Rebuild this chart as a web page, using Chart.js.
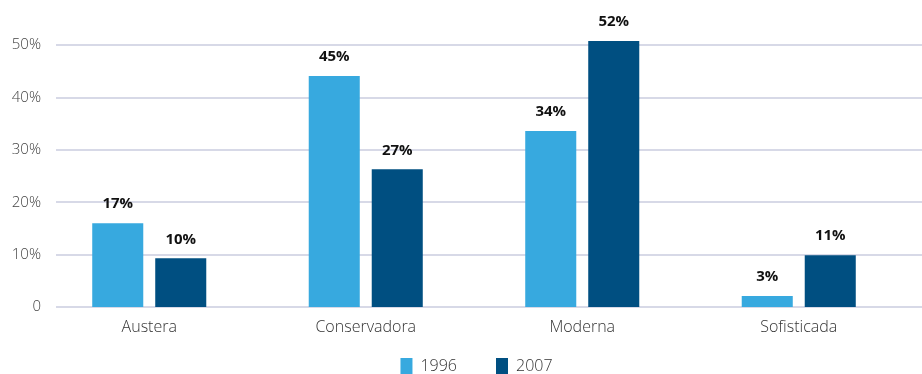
<!DOCTYPE html>
<html>
<head>
<meta charset="utf-8">
<script src="https://cdn.jsdelivr.net/npm/chart.js@4"></script>
<style>
  html, body { margin: 0; padding: 0; background: #fff; }
  #wrap { width: 922px; height: 374px; }
</style>
</head>
<body>
<div id="wrap"><canvas id="grafico" width="922" height="374"></canvas></div>
<script>
// datos
const categorias = ['Austera', 'Conservadora', 'Moderna', 'Sofisticada'];
const valores1996 = [16.0, 44.1, 33.6, 2.1];
const valores2007 = [9.3, 26.3, 50.8, 9.9];
const etiquetas1996 = ['17%', '45%', '34%', '3%'];
const etiquetas2007 = ['10%', '27%', '52%', '11%'];
const ticksY = [0, 10, 20, 30, 40, 50];

const fuente = "'Open Sans', Lato, sans-serif";

// lineas de la grilla, un poco desplazadas respecto al area del grafico
let grillaPlugin = {
  id: 'grilla',
  beforeDatasetsDraw(chart) {
    let ctx = chart.ctx;
    let y = chart.scales.y;
    ctx.save();
    ctx.strokeStyle = '#d7d9e7';
    ctx.lineWidth = 2;
    ticksY.forEach(v => {
      let py = Math.round(y.getPixelForValue(v));
      ctx.beginPath();
      ctx.moveTo(56, py);
      ctx.lineTo(chart.width, py);
      ctx.stroke();
    });
    ctx.restore();
  }
};

// etiquetas encima de cada barra
let etiquetasPlugin = {
  id: 'etiquetas',
  afterDatasetsDraw(chart) {
    let ctx = chart.ctx;
    ctx.save();
    ctx.font = "bold 15px " + fuente;
    ctx.fillStyle = '#111';
    ctx.textAlign = 'center';
    ctx.textBaseline = 'middle';
    chart.data.datasets.forEach((ds, i) => {
      let meta = chart.getDatasetMeta(i);
      meta.data.forEach((bar, j) => {
        ctx.fillText(ds.textos[j], bar.x, bar.y - 19);
      });
    });
    ctx.restore();
  }
};

// colocar la leyenda debajo de las etiquetas del eje x
let leyendaPlugin = {
  id: 'moverLeyenda',
  afterLayout(chart) {
    let leyenda = chart.legend;
    let alto = leyenda.bottom - leyenda.top;
    leyenda.top = 319;
    leyenda.bottom = 319 + alto;
    leyenda.left += 23;
    leyenda.right += 23;
  }
};

let config = {
  type: 'bar',
  data: {
    labels: categorias,
    datasets: [
      {
        label: '1996',
        data: valores1996,
        textos: etiquetas1996,
        backgroundColor: '#37a9df',
        barPercentage: 0.81,
        categoryPercentage: 0.582
      },
      {
        label: '2007',
        data: valores2007,
        textos: etiquetas2007,
        backgroundColor: '#004f81',
        barPercentage: 0.81,
        categoryPercentage: 0.582
      }
    ]
  },
  options: {
    responsive: false,
    animation: false,
    devicePixelRatio: 1,
    layout: { padding: { top: 19, right: 15, bottom: -31, left: 0 } },
    plugins: {
      tooltip: { enabled: false },
      legend: {
        position: 'bottom',
        labels: {
          boxWidth: 12,
          boxHeight: 16,
          padding: 39,
          color: '#333',
          font: { family: fuente, size: 16, weight: '300' }
        }
      }
    },
    scales: {
      x: {
        grid: { display: false, drawTicks: false },
        border: { display: false },
        afterFit: scale => { scale.height = 33; },
        ticks: {
          color: '#333',
          padding: 11,
          font: { family: fuente, size: 16, weight: '300' }
        }
      },
      y: {
        min: 0,
        max: 55,
        grid: { display: false, drawTicks: false },
        border: { display: false },
        afterBuildTicks: scale => {
          scale.ticks = ticksY.map(v => ({ value: v }));
        },
        afterFit: scale => { scale.width = 41; },
        ticks: {
          color: '#444',
          padding: 0,
          font: { family: fuente, size: 15, weight: '300' },
          callback: v => v === 0 ? '0' : v + '%'
        }
      }
    }
  },
  plugins: [grillaPlugin, etiquetasPlugin, leyendaPlugin]
};

let grafico = new Chart(document.getElementById('grafico'), config);
</script>
</body>
</html>
